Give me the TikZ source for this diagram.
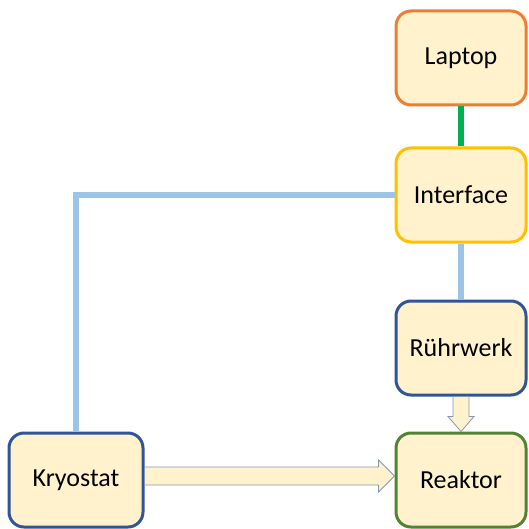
\documentclass[tikz,border=0pt]{standalone}
\usepackage{fontspec}
\setmainfont{Carlito}
\usepackage{xcolor}
\usetikzlibrary{calc}

\definecolor{boxfill}{HTML}{FFF2CC}
\definecolor{laptopc}{HTML}{ED7D31}
\definecolor{ifacec}{HTML}{FFC000}
\definecolor{darkblue}{HTML}{2F5597}
\definecolor{reakc}{HTML}{548235}
\definecolor{linkgreen}{HTML}{00B050}
\definecolor{linkblue}{HTML}{9DC3E6}
\definecolor{arrowedge}{HTML}{8497B0}

\begin{document}
\begin{tikzpicture}[x=1pt, y=1pt,
    box/.style={rectangle, rounded corners=15pt, draw, line width=3pt, fill=boxfill,
        minimum width=130pt, minimum height=94pt, font=\fontsize{26}{30}\selectfont},
    link/.style={line width=6pt},
    fatarrow/.style={draw=arrowedge, line width=0.8pt, fill=boxfill, line join=miter}]
    \useasboundingbox (0,0) rectangle (528,-529);

    \node[box, draw=laptopc] (laptop) at (461,-58) {Laptop};
    \node[box, draw=ifacec] (iface) at (461,-195) {Interface};
    \node[box, draw=darkblue] (ruehr) at (461,-348) {Rührwerk};
    \node[box, draw=reakc] (reak) at (461,-480) {Reaktor};
    \node[box, draw=darkblue, minimum width=134pt] (kryo) at (76,-480) {Kryostat};

    \draw[link, linkgreen] (laptop) -- (iface);
    \draw[link, linkblue] (iface) -- (ruehr);
    \draw[link, linkblue] (iface.west) -| (kryo.north);

    % fat arrows into the reactor
    \draw[fatarrow] ($(ruehr.south)+(-8,0)$) -- ($(reak.north)+(-8,15)$) -- ($(reak.north)+(-13,15)$)
        -- (reak.north) -- ($(reak.north)+(13,15)$) -- ($(reak.north)+(8,15)$)
        -- ($(ruehr.south)+(8,0)$) -- cycle;
    \draw[fatarrow] ($(kryo.east)+(0,13)$) -- ($(reak.west)+(-16,13)$) -- ($(reak.west)+(-16,20)$)
        -- ($(reak.west)+(0,4)$) -- ($(reak.west)+(-16,-12)$) -- ($(reak.west)+(-16,-5)$)
        -- ($(kryo.east)+(0,-5)$) -- cycle;
\end{tikzpicture}
\end{document}
